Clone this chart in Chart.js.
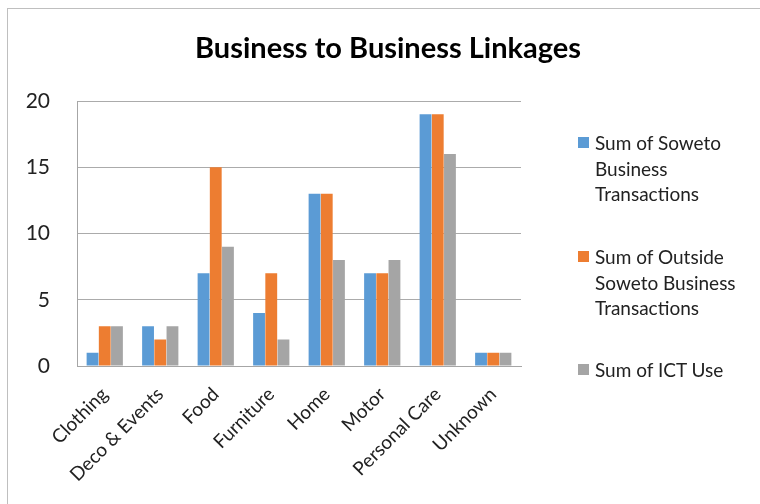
<!DOCTYPE html>
<html>
<head>
<meta charset="utf-8">
<script src="https://cdn.jsdelivr.net/npm/chart.js@4/dist/chart.umd.min.js"></script>
<style>
  html, body { margin: 0; padding: 0; background: #fff; overflow: hidden; }
  #wrap { position: relative; width: 760px; height: 504px; }
  #frame { position: absolute; left: 7px; top: 8px; width: 800px; height: 600px; border: 1px solid #bfbfbf; box-sizing: border-box; }
  canvas { position: absolute; left: 0; top: 0; }
  #legend { position: absolute; left: 578px; top: 0; font-family: Lato, sans-serif; font-size: 19px; color: #222; }
  .item { position: absolute; left: 0; display: flex; align-items: flex-start; }
  .box { width: 11px; height: 11px; margin-top: 7px; margin-right: 6px; flex: none; }
  .txt { width: 162px; line-height: 25.5px; }
</style>
</head>
<body>
<div id="wrap">
  <div id="frame"></div>
  <canvas id="chart" width="760" height="504"></canvas>
  <div id="legend"></div>
</div>
<script>
const categories = ['Clothing', 'Deco & Events', 'Food', 'Furniture', 'Home', 'Motor', 'Personal Care', 'Unknown'];
const sowetoTransactions = [1, 3, 7, 4, 13, 7, 19, 1];
const outsideTransactions = [3, 2, 15, 7, 13, 7, 19, 1];
const ictUse = [3, 3, 9, 2, 8, 8, 16, 1];
const yTicks = [0, 5, 10, 15, 20];

const chartTitle = 'Business to Business Linkages';
const seriesNames = [
  'Sum of Soweto Business Transactions',
  'Sum of Outside Soweto Business Transactions',
  'Sum of ICT Use'
];
const seriesColors = ['#5b9bd5', '#ed7d31', '#a5a5a5'];
const seriesData = [sowetoTransactions, outsideTransactions, ictUse];

// title centred across the whole canvas, not just the plot area
const canvasTitle = {
  id: 'canvasTitle',
  afterDraw(chart) {
    const c = chart.ctx;
    c.save();
    c.font = 'bold 29px Lato';
    c.fillStyle = '#000';
    c.textAlign = 'center';
    c.textBaseline = 'alphabetic';
    c.fillText(chartTitle, 388, 58);
    c.restore();
  }
};

const ctx = document.getElementById('chart').getContext('2d');
const chart = new Chart(ctx, {
  type: 'bar',
  data: {
    labels: categories,
    datasets: seriesData.map((d, i) => ({
      label: seriesNames[i],
      data: d,
      backgroundColor: seriesColors[i],
      borderWidth: 0,
      categoryPercentage: 0.66,
      barPercentage: 0.97
    }))
  },
  plugins: [canvasTitle],
  options: {
    responsive: false,
    animation: false,
    layout: { padding: { left: 0, right: 239, top: 101, bottom: 0 } },
    plugins: {
      legend: { display: false },
      tooltip: { enabled: false },
      title: { display: false }
    },
    scales: {
      x: {
        grid: { display: false, drawTicks: false },
        border: { display: true, color: '#a6a6a6', width: 1 },
        ticks: {
          color: '#222',
          font: { family: 'Lato', size: 19 },
          minRotation: 45,
          maxRotation: 45,
          autoSkip: false,
          padding: 17
        },
        afterFit: scale => { scale.height = 138; }
      },
      y: {
        min: 0,
        max: 20,
        afterBuildTicks: scale => { scale.ticks = yTicks.map(v => ({ value: v })); },
        grid: { color: '#ababab', drawTicks: false },
        border: { display: true, color: '#a6a6a6' },
        ticks: {
          color: '#222',
          font: { family: 'Lato', size: 21 },
          padding: 27
        },
        afterFit: scale => { scale.width = 77; }
      }
    }
  }
});

// legend with wrapped labels, laid out to the right of the plot
const legendTops = [130, 244, 357];
const legend = document.getElementById('legend');
seriesNames.forEach((name, i) => {
  const item = document.createElement('div');
  item.className = 'item';
  item.style.top = legendTops[i] + 'px';
  item.innerHTML = `<span class="box" style="background:${seriesColors[i]}"></span><span class="txt">${name}</span>`;
  legend.appendChild(item);
});
</script>
</body>
</html>
